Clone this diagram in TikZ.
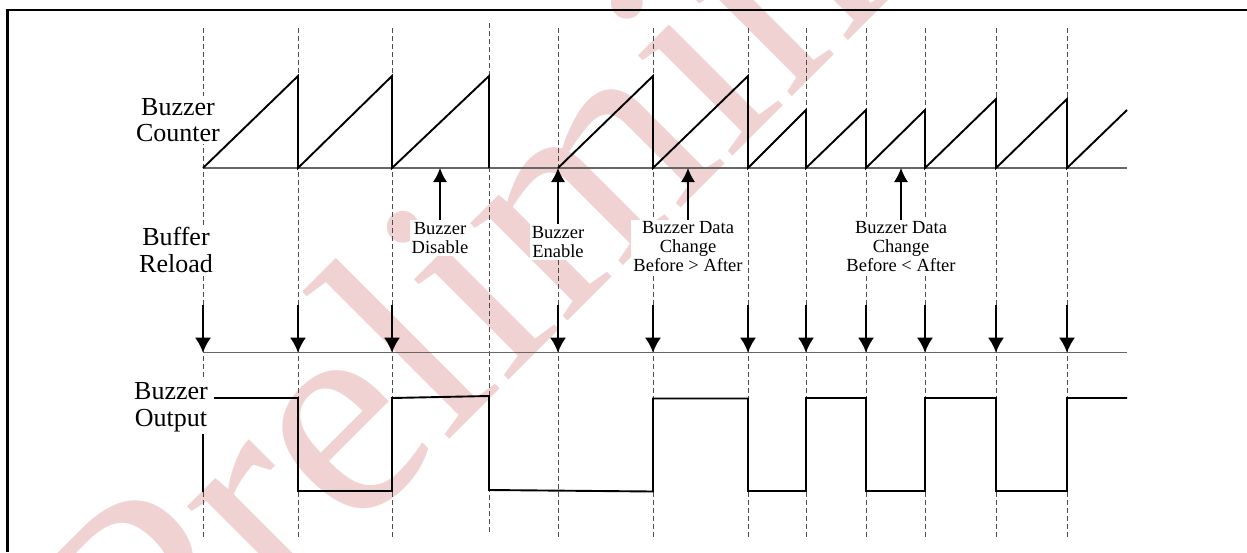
\documentclass[tikz,border=0pt]{standalone}
\usepackage{fontspec}
\setmainfont{Liberation Serif}
\usetikzlibrary{arrows.meta}
\definecolor{wmark}{RGB}{240,210,210}

\begin{document}
\begin{tikzpicture}[x=1pt,y=-1pt,
  sig/.style={draw=black,line width=1.9pt},
  axis/.style={draw=black!60,line width=1.2pt},
  grid/.style={draw=black!70,dash pattern=on 5pt off 3pt,line width=0.9pt},
  row label/.style={fill=white,align=center,inner xsep=6pt,inner ysep=2pt,font=\fontsize{26}{26.5}\selectfont},
  note/.style={fill=white,align=center,inner sep=2pt,font=\fontsize{18.5}{19}\selectfont},
  reload/.style={-{Latex[length=15pt,width=16pt]},line width=1.9pt},
  event/.style={-{Latex[length=14pt,width=14pt]},line width=1.2pt}]
\useasboundingbox (0,0) rectangle (1247,552);

% watermark
\node[text=wmark,rotate=45,inner sep=0pt,font=\fontsize{300}{300}\selectfont] (wm) at (613,175) {Preliminary};

% frame
\draw[line width=2.3pt] (7.5,552) -- (7.5,10) -- (1247,10);

% time marks
\foreach \t in {203,298,392,558,653,748,806,866,925,996,1067}
  \draw[grid] (\t,28) -- (\t,537);
\draw[grid] (489,23) -- (489,532);

% base lines
\draw[axis] (203,168) coordinate (cnt0) -- (1127,168) coordinate (cnt1);
\draw[axis] (203,352.7) coordinate (buf0) -- (1127,352.7) coordinate (buf1);

% buzzer counter
\draw[sig] (203,168) -- (298,76) -- (298,168) -- (392,76) -- (392,168) -- (489,76) -- (489,168);
\draw[sig] (558,168) -- (653,76) -- (653,168) -- (748,76) -- (748,168) -- (806,110) -- (806,168)
  -- (866,110) -- (866,168) -- (925,110) -- (925,168) -- (996,99) -- (996,168) -- (1067,99)
  -- (1067,168) -- (1127,110);

% buzzer output
\draw[sig] (203,492) -- (203,398) -- (298,398) -- (298,491) -- (392,491) -- (392,398)
  -- (489,396) -- (489,490) -- (653,491.5) -- (653,398.5) -- (748,398.5) -- (748,491)
  -- (806,491) -- (806,398) -- (866,398) -- (866,491) -- (925,491) -- (925,398)
  -- (996,398) -- (996,491) -- (1067,491) -- (1067,398) -- (1127,398);

% row labels
\node[row label] (cntlbl) at (178,120) {Buzzer\\Counter};
\node[row label] (buflbl) at (176,250) {Buffer\\Reload};
\node[row label] (outlbl) at (171,407) {Buzzer\\Output};

% events
\node[note] (dis) at (440,238) {Buzzer\\Disable};
\node[note] (en) at (558,242) {Buzzer\\Enable};
\node[note] (chgdn) at (688,247) {Buzzer Data\\Change\\Before > After};
\node[note] (chgup) at (901,247) {Buzzer Data\\Change\\Before < After};

\draw[event] (dis.north) -- (dis.north |- cnt0);
\draw[event] (en.north) -- (en.north |- cnt0);
\draw[event] (chgdn.north) -- (chgdn.north |- cnt0);
\draw[event] (chgup.north) -- (chgup.north |- cnt0);

% reload points
\foreach \t in {203,298,392,558,653,748,806,866,925,996,1067}
  \draw[reload] (\t,305) -- (\t,352.7);
\end{tikzpicture}
\end{document}
